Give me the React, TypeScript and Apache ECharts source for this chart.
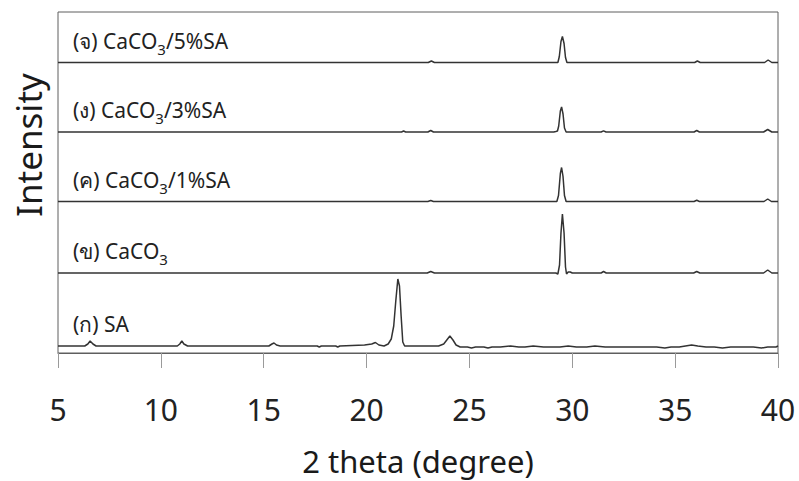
import React, { useEffect, useRef } from 'react';
import * as echarts from 'echarts';

const xTicks = [5, 10, 15, 20, 25, 30, 35, 40];
const sampleLabels = ['(ก) SA', '(ข) CaCO{s|3}', '(ค) CaCO{s|3}/1%SA', '(ง) CaCO{s|3}/3%SA', '(จ) CaCO{s|3}/5%SA'];
const sampleNames = ['(ก) SA', '(ข) CaCO3', '(ค) CaCO3/1%SA', '(ง) CaCO3/3%SA', '(จ) CaCO3/5%SA'];
const baselines = [7, 80, 151.5, 221, 290.5];

const saData: number[][] = [
  [5, 0], [6.3, 0], [6.45, 2], [6.56, 5], [6.7, 2], [6.85, 0], [10.8, 0], [10.92, 2], [11.02, 5], [11.12, 2], [11.3, 0],
  [15.25, 0], [15.4, 2], [15.5, 3], [15.62, 1], [15.8, 0], [17.6, 0], [17.7, -1], [17.8, 0], [18.5, 0], [18.6, -1],
  [18.7, 0], [19.9, 1], [20.25, 2], [20.43, 3.5], [20.6, 1], [20.85, 0], [21.05, 2], [21.2, 7], [21.32, 20], [21.42, 45],
  [21.52, 67], [21.6, 60], [21.68, 30], [21.76, 4], [21.85, 0], [23.5, 0], [23.75, 2], [23.9, 6], [24.05, 10], [24.2, 6],
  [24.35, 1], [24.55, -1], [24.9, -1], [25.1, -2], [25.3, -1], [25.7, -1], [25.9, -2], [26.1, -1], [26.5, -1], [27.0, 0],
  [27.4, -1], [27.7, -1], [28.1, 0], [28.6, -1], [29.0, -1], [29.4, -1], [29.8, 0], [30.2, -1], [30.7, -1], [31.1, 0],
  [31.6, -1], [32.1, -1], [32.5, -1], [33.0, -1], [33.6, -1], [34.1, -1], [34.5, -2], [34.8, -1], [35.2, -1], [35.5, 0],
  [35.8, 1], [36.1, 0], [36.5, -1], [36.9, -1], [37.3, -2], [37.7, -1], [38.2, -1], [38.8, -1], [39.2, -2], [39.5, -1],
  [39.9, -1], [40, 0],
];
const caco3Data: number[][] = [
  [5, 0], [22.95, 0], [23.12, 1.5], [23.3, 0], [29.2, 0], [29.3, -1], [29.38, 8], [29.45, 40], [29.52, 59],
  [29.6, 40], [29.67, 6], [29.72, -1], [29.8, 1], [29.9, 1], [30.0, 0], [31.4, 0], [31.52, 1.5], [31.65, 0],
  [35.9, 0], [36.05, 1.5], [36.2, 0], [39.3, 0], [39.5, 3], [39.7, 0], [40, 0],
];
const sa1Data: number[][] = [
  [5, 0], [22.98, 0], [23.12, 1], [23.25, 0], [29.25, 0], [29.33, 6], [29.42, 28], [29.48, 34], [29.55, 25],
  [29.62, 6], [29.7, 0], [35.92, 0], [36.05, 1.2], [36.18, 0], [39.32, 0], [39.5, 2.5], [39.68, 0], [40, 0],
];
const sa3Data: number[][] = [
  [5, 0], [21.7, 0], [21.8, 1], [21.9, 0], [22.98, 0], [23.12, 1.5], [23.25, 0], [29.1, 0], [29.2, 0.5],
  [29.28, 1], [29.34, 6], [29.42, 21], [29.48, 25], [29.55, 18], [29.62, 4], [29.7, 0], [31.4, 0], [31.52, 1.2],
  [31.64, 0], [35.92, 0], [36.05, 1.5], [36.18, 0], [39.3, 0], [39.5, 2.5], [39.7, 0], [40, 0],
];
const sa5Data: number[][] = [
  [5, 0], [23.0, 0], [23.15, 1.5], [23.3, 0], [29.3, 0], [29.37, 6], [29.45, 21], [29.52, 26], [29.6, 19],
  [29.67, 5], [29.74, 0], [35.95, 0], [36.08, 1.5], [36.22, 0], [39.35, 0], [39.52, 2.5], [39.7, 0], [40, 0],
];
const allData = [saData, caco3Data, sa1Data, sa3Data, sa5Data];

const FONT = "'Noto Sans', 'DejaVu Sans', sans-serif";

export default function App() {
  const ref = useRef<HTMLDivElement>(null);
  useEffect(() => {
    if (!ref.current) return;
    const chart = echarts.init(ref.current, undefined, { renderer: 'svg' });
    const gridTop = 12;
    const gridBottomPx = 353;
    const gridH = gridBottomPx - gridTop;
    const labelYs = baselines.map((b) => gridBottomPx - b - 22);
    chart.setOption({
      animation: false,
      textStyle: { fontFamily: FONT },
      grid: { left: 58, right: 21, top: gridTop, height: gridH, show: true, borderColor: '#5e5e5e', borderWidth: 1 },
      xAxis: {
        type: 'value', min: 5, max: 40, interval: 5,
        name: '2 theta (degree)', nameLocation: 'middle', nameGap: 92,
        nameTextStyle: { fontSize: 31, color: '#1a1a1a', fontFamily: FONT },
        axisLine: { show: true, lineStyle: { color: '#5e5e5e', width: 1 } },
        axisTick: { show: true, inside: false, length: 15, lineStyle: { color: '#9a9a9a' } },
        axisLabel: { margin: 41, fontSize: 30, color: '#222', fontFamily: FONT,
          formatter: (v: number) => (xTicks.includes(v) ? String(v) : '') },
        splitLine: { show: false },
      },
      yAxis: {
        type: 'value', min: 0, max: gridH,
        axisLine: { show: false }, axisTick: { show: false }, axisLabel: { show: false }, splitLine: { show: false },
      },
      series: allData.map((d, i) => ({
        name: sampleNames[i],
        type: 'line',
        showSymbol: false,
        symbol: 'none',
        lineStyle: { color: '#333', width: 1.5 },
        data: d.map(([x, y]) => [x, y + baselines[i]]),
      })),
      graphic: [
        {
          type: 'text', x: 28, y: 145, rotation: Math.PI / 2,
          style: { text: 'Intensity', fontSize: 35, fill: '#1a1a1a', fontFamily: FONT, align: 'center', verticalAlign: 'middle' },
        },
        ...sampleLabels.map((t, i) => ({
          type: 'text', x: 73, y: labelYs[i],
          style: {
            text: t, fontSize: 21, fill: '#222', fontFamily: FONT, align: 'left', verticalAlign: 'middle',
            lineHeight: 31,
            rich: { s: { fontSize: 15, lineHeight: 13, verticalAlign: 'bottom', fill: '#222', fontFamily: FONT } },
          },
        })),
      ],
    });
    return () => chart.dispose();
  }, []);
  return <div ref={ref} style={{ position: 'absolute', left: 0, top: 0, width: 799, height: 481 }} />;
}
